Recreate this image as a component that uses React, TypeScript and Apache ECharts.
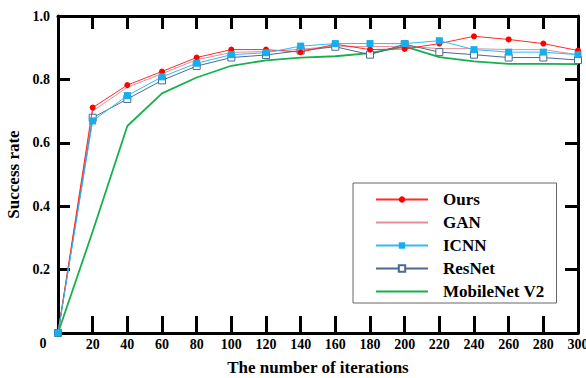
import React, { useEffect, useRef } from "react";
import * as echarts from "echarts";

const iterations = [0, 20, 40, 60, 80, 100, 120, 140, 160, 180, 200, 220, 240, 260, 280, 300];
const ours = [0, 0.711, 0.782, 0.825, 0.869, 0.894, 0.894, 0.886, 0.911, 0.894, 0.896, 0.913, 0.936, 0.926, 0.913, 0.891];
const gan = [0, 0.7, 0.775, 0.818, 0.862, 0.885, 0.888, 0.895, 0.905, 0.903, 0.905, 0.897, 0.897, 0.894, 0.894, 0.878];
const icnn = [0, 0.669, 0.749, 0.808, 0.851, 0.878, 0.884, 0.905, 0.913, 0.913, 0.913, 0.922, 0.894, 0.886, 0.886, 0.878];
const resnet = [0, 0.679, 0.738, 0.797, 0.842, 0.869, 0.877, 0.891, 0.903, 0.878, 0.911, 0.886, 0.878, 0.869, 0.869, 0.861];
const mobilenet = [0, 0.32, 0.653, 0.756, 0.806, 0.843, 0.86, 0.869, 0.873, 0.883, 0.904, 0.87, 0.857, 0.849, 0.849, 0.848];

const FONT = '"Liberation Serif", "Times New Roman", serif';

const pairs = (ys: number[]) => iterations.map((x, i) => [x, ys[i]]);

export default function App() {
  const ref = useRef<HTMLDivElement>(null);
  useEffect(() => {
    if (!ref.current) return;
    const chart = echarts.init(ref.current, null, { renderer: "svg" });
    const axisLine = { show: true, onZero: false, lineStyle: { color: "#000", width: 3 } };
    const tick = (length: number) => ({
      show: true,
      inside: true,
      length,
      lineStyle: { color: "#000", width: 3 },
    });
    chart.setOption({
      animation: false,
      backgroundColor: "#fff",
      grid: { left: 58, right: 8, top: 16, bottom: 45, containLabel: false, outerBoundsMode: "none" },
      legend: {
        orient: "vertical",
        left: 353,
        top: 183,
        padding: [8, 12, 3, 22],
        itemWidth: 52,
        itemHeight: 8,
        itemGap: 6,
        borderColor: "#666",
        borderWidth: 1,
        backgroundColor: "#fff",
        textStyle: {
          fontFamily: FONT,
          fontWeight: "bold",
          fontSize: 17,
          lineHeight: 17,
          color: "#000",
          padding: [0, 0, 0, 10],
        },
        data: [
          { name: "Ours" },
          { name: "GAN", itemStyle: { opacity: 0 } },
          { name: "ICNN" },
          { name: "ResNet" },
          { name: "MobileNet V2", itemStyle: { opacity: 0 } },
        ],
      },
      xAxis: [
        {
          type: "value",
          min: 0,
          max: 300,
          interval: 20,
          name: "The number of iterations",
          nameLocation: "middle",
          nameGap: 26,
          nameTextStyle: { fontFamily: FONT, fontWeight: "bold", fontSize: 17, color: "#000" },
          axisLine,
          axisTick: tick(17),
          axisLabel: {
            fontFamily: FONT,
            fontWeight: "bold",
            fontSize: 14,
            color: "#000",
            margin: 4,
            formatter: (v: number) => (v === 0 ? "" : String(v)),
          },
          splitLine: { show: false },
        },
        {
          type: "value",
          position: "top",
          min: 0,
          max: 300,
          interval: 20,
          axisLine,
          axisTick: tick(13),
          axisLabel: { show: false },
          splitLine: { show: false },
        },
      ],
      yAxis: [
        {
          type: "value",
          min: 0,
          max: 1,
          interval: 0.2,
          name: "Success rate",
          nameLocation: "middle",
          nameGap: 30,
          nameTextStyle: { fontFamily: FONT, fontWeight: "bold", fontSize: 17, color: "#000" },
          axisLine,
          axisTick: tick(12),
          axisLabel: {
            fontFamily: FONT,
            fontWeight: "bold",
            fontSize: 14,
            color: "#000",
            margin: 8,
            formatter: (v: number) => (v === 0 ? "" : v.toFixed(1)),
          },
          splitLine: { show: false },
        },
        {
          type: "value",
          position: "right",
          min: 0,
          max: 1,
          interval: 0.2,
          axisLine,
          axisTick: tick(13),
          axisLabel: { show: false },
          splitLine: { show: false },
        },
      ],
      graphic: [
        {
          type: "text",
          x: 43,
          y: 343,
          style: {
            text: "0",
            fontFamily: FONT,
            fontWeight: "bold",
            fontSize: 14,
            fill: "#000",
            align: "center",
            verticalAlign: "middle",
          },
        },
      ],
      series: [
        {
          name: "MobileNet V2",
          type: "line",
          data: pairs(mobilenet),
          symbol: "none",
          lineStyle: { color: "#16b04c", width: 1.8 },
          itemStyle: { color: "#16b04c" },
          z: 2,
        },
        {
          name: "GAN",
          type: "line",
          data: pairs(gan),
          symbol: "none",
          lineStyle: { color: "#e58d9c", width: 1 },
          itemStyle: { color: "#e58d9c" },
          z: 3,
        },
        {
          name: "ResNet",
          type: "line",
          data: pairs(resnet),
          symbol: "rect",
          symbolSize: 7,
          lineStyle: { color: "#4a6a90", width: 1 },
          itemStyle: { color: "#fff", borderColor: "#4a6a90", borderWidth: 1 },
          z: 4,
        },
        {
          name: "Ours",
          type: "line",
          data: pairs(ours),
          symbol: "circle",
          symbolSize: 6,
          lineStyle: { color: "#ff2a2a", width: 1 },
          itemStyle: { color: "#ff0000" },
          z: 5,
        },
        {
          name: "ICNN",
          type: "line",
          data: pairs(icnn),
          symbol: "rect",
          symbolSize: 7,
          lineStyle: { color: "#33baf0", width: 1 },
          itemStyle: { color: "#16aeee" },
          z: 6,
        },
      ],
    });
    return () => chart.dispose();
  }, []);
  return (
    <div
      ref={ref}
      style={{ position: "fixed", left: 0, top: 0, width: 586, height: 378, background: "#fff" }}
    />
  );
}
